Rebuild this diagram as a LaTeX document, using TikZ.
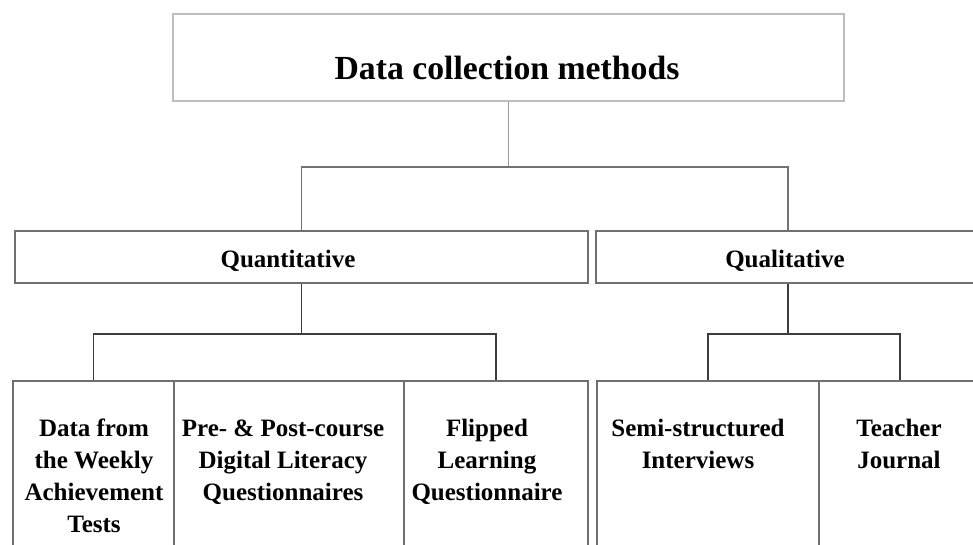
\documentclass[tikz,border=0pt]{standalone}
\usepackage{fontspec}
\setmainfont{Liberation Serif}
\usepackage{xcolor}
\definecolor{boxgrey}{RGB}{112,112,112}
\definecolor{topgrey}{RGB}{190,190,190}
\definecolor{linegrey}{RGB}{115,115,115}
\definecolor{lightline}{RGB}{155,155,155}
\definecolor{darkline}{RGB}{60,60,60}
\usetikzlibrary{positioning, calc}
% one pixel of the reference
\newcommand{\pxu}{*0.75pt}

\begin{document}
\begin{tikzpicture}[x=0.75pt, y=-0.75pt,
  box/.style={draw=boxgrey, line width=2\pxu, fill=white, anchor=north west, inner sep=0pt},
  leafbox/.style={box, minimum height=220\pxu},
  boxtext/.style={font=\fontsize{18.75}{24}\selectfont\bfseries, anchor=base, align=center, inner sep=0pt},
  leaftext/.style={boxtext, anchor=north},
  topline/.style={lightline, line width=1.2\pxu},
  midline/.style={linegrey, line width=1.6\pxu},
  leafline/.style={darkline, line width=1.3\pxu}]

\useasboundingbox (0,0) rectangle (973,545);
\clip (0,0) rectangle (973,545);

% === Top box ===
\node[box, draw=topgrey, minimum width=671\pxu, minimum height=87\pxu] (methods) at (172,13) {};
\node[font=\fontsize{25.3}{30}\selectfont\bfseries, anchor=base, inner sep=0pt] (methods-txt) at (507,80) {Data collection methods};

% === Second level ===
\node[box, minimum width=573\pxu, minimum height=52\pxu] (quant) at (14,230) {};
\node[boxtext] (quant-txt) at (288,267) {Quantitative};

\node[box, minimum width=384\pxu, minimum height=52\pxu] (qual) at (595,230) {};
\node[boxtext] (qual-txt) at (785,267) {Qualitative};

% === Bottom level: quantitative ===
\node[leafbox, minimum width=161\pxu] (weekly) at (12,380) {};
\node[leafbox, minimum width=230\pxu] (prepost) at (173,380) {};
\node[leafbox, minimum width=184\pxu] (flipped) at (403,380) {};

\node[leaftext] (weekly-txt) at (94,419) {Data from\\the Weekly\\Achievement\\Tests};
\node[leaftext] (prepost-txt) at (283,420) {Pre- \& Post-course\\Digital Literacy\\Questionnaires};
\node[leaftext] (flipped-txt) at (487,419) {Flipped\\Learning\\Questionnaire};

% === Bottom level: qualitative ===
\node[leafbox, minimum width=222\pxu] (interviews) at (596,380) {};
\node[leafbox, minimum width=162\pxu] (journal) at (818,380) {};

\node[leaftext] (interviews-txt) at (698,419) {Semi-structured\\Interviews};
\node[leaftext] (journal-txt) at (899,419) {Teacher\\Journal};

% === Connectors ===
\coordinate (top-split) at ($(methods.south)+(0,65)$);
\draw[topline] (methods.south) -- (top-split);
\draw[midline] (quant.north) |- (top-split) -| (qual.north);

\coordinate (quant-split) at ($(quant.south)+(0,50)$);
\draw[leafline] (quant.south) -- (quant-split);
\draw[leafline] (weekly.north) |- (quant-split) -| (flipped.north);

\coordinate (qual-split) at ($(qual.south)+(0,50)$);
\draw[leafline] (qual.south) -- (qual-split);
\draw[leafline] (interviews.north) |- (qual-split) -| (journal.north);

\end{tikzpicture}
\end{document}
